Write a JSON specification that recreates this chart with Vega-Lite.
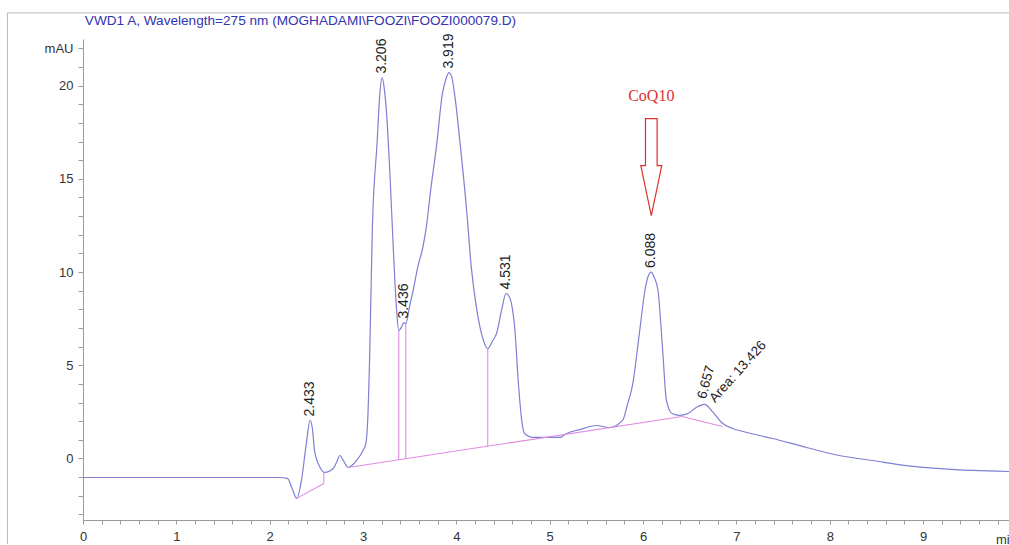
{
  "$schema": "https://vega.github.io/schema/vega-lite/v6.json",
  "width": 926,
  "height": 481,
  "autosize": {"type": "none"},
  "padding": {"left": 83, "top": 39, "right": 0, "bottom": 25},
  "background": "white",
  "config": {
    "view": {"stroke": null},
    "axis": {
      "grid": false,
      "domainColor": "#9a9a9a",
      "tickColor": "#9a9a9a",
      "labelFont": "Liberation Sans",
      "labelFontSize": 13,
      "labelColor": "#333333",
      "labelOverlap": false,
      "labelFlush": false,
      "labelBound": false
    }
  },
  "datasets": {
    "trace": [
      {"t": 0.00, "mAU": -1.02}, {"t": 0.60, "mAU": -1.02}, {"t": 1.25, "mAU": -1.02}, {"t": 1.80, "mAU": -1.02},
      {"t": 2.10, "mAU": -1.02}, {"t": 2.19, "mAU": -1.07}, {"t": 2.24, "mAU": -1.61}, {"t": 2.29, "mAU": -2.14},
      {"t": 2.34, "mAU": -1.18}, {"t": 2.39, "mAU": 0.70}, {"t": 2.433, "mAU": 2.04}, {"t": 2.46, "mAU": 1.50},
      {"t": 2.48, "mAU": 0.43}, {"t": 2.54, "mAU": -0.48}, {"t": 2.59, "mAU": -0.75}, {"t": 2.68, "mAU": -0.54},
      {"t": 2.72, "mAU": -0.16}, {"t": 2.75, "mAU": 0.16}, {"t": 2.79, "mAU": -0.11}, {"t": 2.84, "mAU": -0.48},
      {"t": 2.88, "mAU": -0.38}, {"t": 2.93, "mAU": -0.11}, {"t": 3.00, "mAU": 0.43}, {"t": 3.03, "mAU": 0.80},
      {"t": 3.05, "mAU": 2.04}, {"t": 3.07, "mAU": 5.25}, {"t": 3.10, "mAU": 12.39}, {"t": 3.15, "mAU": 16.89},
      {"t": 3.18, "mAU": 19.57}, {"t": 3.206, "mAU": 20.43}, {"t": 3.23, "mAU": 19.73}, {"t": 3.25, "mAU": 18.66},
      {"t": 3.29, "mAU": 15.07}, {"t": 3.33, "mAU": 10.62}, {"t": 3.36, "mAU": 7.94}, {"t": 3.383, "mAU": 6.86},
      {"t": 3.415, "mAU": 7.08}, {"t": 3.436, "mAU": 7.29}, {"t": 3.458, "mAU": 7.24}, {"t": 3.50, "mAU": 8.20},
      {"t": 3.53, "mAU": 8.85}, {"t": 3.59, "mAU": 10.35}, {"t": 3.64, "mAU": 11.31}, {"t": 3.68, "mAU": 12.49},
      {"t": 3.72, "mAU": 14.21}, {"t": 3.79, "mAU": 16.89}, {"t": 3.85, "mAU": 19.57}, {"t": 3.89, "mAU": 20.38},
      {"t": 3.919, "mAU": 20.70}, {"t": 3.95, "mAU": 20.48}, {"t": 3.98, "mAU": 19.57}, {"t": 4.04, "mAU": 16.89},
      {"t": 4.11, "mAU": 13.30}, {"t": 4.16, "mAU": 10.24}, {"t": 4.22, "mAU": 7.94}, {"t": 4.28, "mAU": 6.49},
      {"t": 4.336, "mAU": 5.90}, {"t": 4.39, "mAU": 6.33}, {"t": 4.43, "mAU": 6.70}, {"t": 4.49, "mAU": 8.10},
      {"t": 4.531, "mAU": 8.85}, {"t": 4.57, "mAU": 8.63}, {"t": 4.59, "mAU": 8.31}, {"t": 4.63, "mAU": 6.70},
      {"t": 4.66, "mAU": 4.34}, {"t": 4.70, "mAU": 2.04}, {"t": 4.73, "mAU": 1.34}, {"t": 4.82, "mAU": 1.13},
      {"t": 5.11, "mAU": 1.13}, {"t": 5.18, "mAU": 1.34}, {"t": 5.32, "mAU": 1.55}, {"t": 5.50, "mAU": 1.77},
      {"t": 5.64, "mAU": 1.66}, {"t": 5.78, "mAU": 2.04}, {"t": 5.83, "mAU": 2.84}, {"t": 5.89, "mAU": 4.02},
      {"t": 5.96, "mAU": 6.70}, {"t": 6.02, "mAU": 9.01}, {"t": 6.05, "mAU": 9.71}, {"t": 6.088, "mAU": 10.00},
      {"t": 6.12, "mAU": 9.71}, {"t": 6.16, "mAU": 9.01}, {"t": 6.21, "mAU": 5.79}, {"t": 6.25, "mAU": 3.11},
      {"t": 6.31, "mAU": 2.41}, {"t": 6.39, "mAU": 2.31}, {"t": 6.48, "mAU": 2.41}, {"t": 6.57, "mAU": 2.73},
      {"t": 6.657, "mAU": 2.90}, {"t": 6.75, "mAU": 2.47}, {"t": 6.84, "mAU": 1.93}, {"t": 6.96, "mAU": 1.61},
      {"t": 7.03, "mAU": 1.50}, {"t": 7.39, "mAU": 1.07}, {"t": 7.75, "mAU": 0.59}, {"t": 8.10, "mAU": 0.16},
      {"t": 8.46, "mAU": -0.11}, {"t": 8.82, "mAU": -0.38}, {"t": 9.18, "mAU": -0.54}, {"t": 9.53, "mAU": -0.64},
      {"t": 9.92, "mAU": -0.70}
    ],
    "baselines": [
      {"t": 2.29, "mAU": -2.14, "t2": 2.58, "mAU2": -1.34},
      {"t": 2.58, "mAU": -1.34, "t2": 2.58, "mAU2": -0.75},
      {"t": 2.84, "mAU": -0.48, "t2": 6.42, "mAU2": 2.25},
      {"t": 3.383, "mAU": -0.07, "t2": 3.383, "mAU2": 6.86},
      {"t": 3.458, "mAU": -0.01, "t2": 3.458, "mAU2": 7.24},
      {"t": 4.336, "mAU": 0.66, "t2": 4.336, "mAU2": 5.90},
      {"t": 6.42, "mAU": 2.25, "t2": 6.85, "mAU2": 1.72}
    ],
    "peaks": [
      {"t": 2.433, "mAU": 2.04},
      {"t": 3.206, "mAU": 20.43},
      {"t": 3.436, "mAU": 7.29},
      {"t": 3.919, "mAU": 20.70},
      {"t": 4.531, "mAU": 8.85},
      {"t": 6.088, "mAU": 10.00},
      {"t": 6.657, "mAU": 2.90, "note": "Area: 13.426"}
    ],
    "compound": [
      {"t": 6.088, "mAU": 19.46, "name": "CoQ10"}
    ],
    "pointer": [
      {"t": 6.088, "mAU": 15.63}
    ],
    "frameTop": [
      {"t": -0.81, "t2": 9.92, "mAU": 23.9}
    ],
    "frameLeft": [
      {"t": -0.81, "mAU": 23.9, "mAU2": -4.6}
    ],
    "heading": [
      {"t": 0.02, "mAU": 23.45, "label": "VWD1 A, Wavelength=275 nm (MOGHADAMI\\FOOZI\\FOOZI000079.D)"}
    ],
    "units": [
      {"t": 9.78, "mAU": -4.35, "label": "min"}
    ]
  },
  "encoding": {
    "x": {
      "field": "t", "type": "quantitative", "title": null,
      "scale": {"domain": [0, 9.92], "nice": false, "zero": false},
      "axis": {
        "values": [0, 0.2, 0.4, 0.6, 0.8, 1, 1.2, 1.4, 1.6, 1.8, 2, 2.2, 2.4, 2.6, 2.8, 3, 3.2, 3.4, 3.6, 3.8, 4, 4.2, 4.4, 4.6, 4.8, 5, 5.2, 5.4, 5.6, 5.8, 6, 6.2, 6.4, 6.6, 6.8, 7, 7.2, 7.4, 7.6, 7.8, 8, 8.2, 8.4, 8.6, 8.8, 9, 9.2, 9.4, 9.6, 9.8],
        "labelExpr": "datum.value % 1 === 0 ? format(datum.value, 'd') : ''",
        "tickSize": 4,
        "labelPadding": 6,
        "labelOverlap": false
      }
    },
    "y": {
      "field": "mAU", "type": "quantitative", "title": null,
      "scale": {"domain": [-3.3, 22.5], "nice": false, "zero": false},
      "axis": {
        "values": [-3, -2, -1, 0, 1, 2, 3, 4, 5, 6, 7, 8, 9, 10, 11, 12, 13, 14, 15, 16, 17, 18, 19, 20, 21, 22],
        "labelExpr": "datum.value === 22 ? 'mAU' : (datum.value % 5 === 0 ? format(datum.value, 'd') : '')",
        "tickSize": 5,
        "labelPadding": 5,
        "labelOverlap": false
      }
    }
  },
  "layer": [
    {
      "data": {"name": "frameTop"},
      "mark": {"type": "rule", "color": "#b8b8b8", "strokeWidth": 1},
      "encoding": {
        "x2": {"field": "t2"}
      }
    },
    {
      "data": {"name": "frameLeft"},
      "mark": {"type": "rule", "color": "#b8b8b8", "strokeWidth": 1},
      "encoding": {
        "y2": {"field": "mAU2"}
      }
    },
    {
      "data": {"name": "heading"},
      "mark": {"type": "text", "align": "left", "baseline": "middle", "font": "Liberation Sans", "fontSize": 13.6, "color": "#3434b0"},
      "encoding": {
        "text": {"field": "label", "type": "nominal"}
      }
    },
    {
      "data": {"name": "trace"},
      "mark": {"type": "line", "color": "#7f7fd4", "strokeWidth": 1.2, "interpolate": "monotone"},
      "encoding": {
        "order": {"field": "t", "type": "quantitative"}
      }
    },
    {
      "data": {"name": "baselines"},
      "mark": {"type": "rule", "color": "#e08be0", "strokeWidth": 1.1},
      "encoding": {
        "x2": {"field": "t2"},
        "y2": {"field": "mAU2"}
      }
    },
    {
      "data": {"name": "peaks"},
      "transform": [{"filter": "datum.t !== 6.657"}],
      "mark": {"type": "text", "angle": 270, "align": "left", "baseline": "middle", "dx": 4, "font": "Liberation Sans", "fontSize": 14, "color": "#222222"},
      "encoding": {
        "text": {"field": "t", "type": "quantitative", "format": ".3f"}
      }
    },
    {
      "data": {"name": "peaks"},
      "transform": [{"filter": "datum.t === 6.657"}],
      "mark": {"type": "text", "angle": 285, "align": "left", "baseline": "middle", "dx": 5, "dy": -4, "font": "Liberation Sans", "fontSize": 13.5, "color": "#222222"},
      "encoding": {
        "text": {"field": "t", "type": "quantitative", "format": ".3f"}
      }
    },
    {
      "data": {"name": "peaks"},
      "transform": [{"filter": "datum.t === 6.657"}],
      "mark": {"type": "text", "angle": 312, "align": "left", "baseline": "middle", "dx": 8, "dy": 3, "font": "Liberation Sans", "fontSize": 13.5, "color": "#222222"},
      "encoding": {
        "text": {"field": "note", "type": "nominal"}
      }
    },
    {
      "data": {"name": "pointer"},
      "mark": {
        "type": "point",
        "shape": "M-0.12,-1L0.12,-1L0.12,-0.03L0.216,-0.03L0,1L-0.216,-0.03L-0.12,-0.03Z",
        "size": 9409,
        "filled": false,
        "stroke": "#e0302c",
        "strokeWidth": 1.2,
        "opacity": 1
      }
    },
    {
      "data": {"name": "compound"},
      "mark": {"type": "text", "align": "center", "baseline": "middle", "font": "Liberation Serif", "fontSize": 16, "color": "#e0302c"},
      "encoding": {
        "text": {"field": "name", "type": "nominal"}
      }
    },
    {
      "data": {"name": "units"},
      "mark": {"type": "text", "align": "left", "baseline": "middle", "font": "Liberation Sans", "fontSize": 13, "color": "#333333"},
      "encoding": {
        "text": {"field": "label", "type": "nominal"}
      }
    }
  ]
}
